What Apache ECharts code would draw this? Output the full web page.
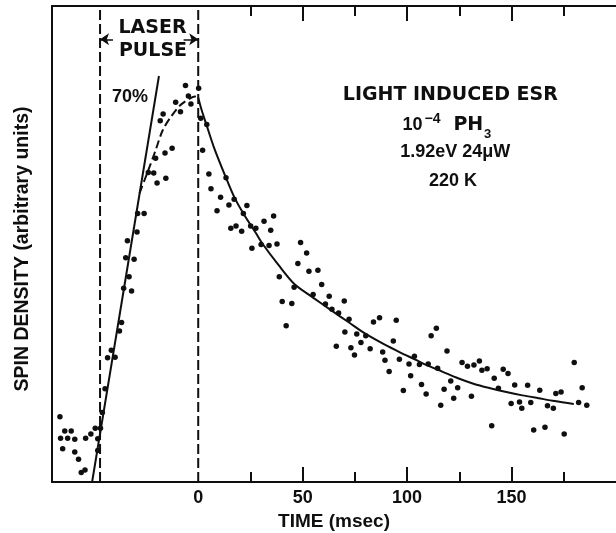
<!DOCTYPE html>
<html>
<head>
<meta charset="utf-8">
<script src="https://cdn.jsdelivr.net/npm/echarts@6/dist/echarts.min.js"></script>
<style>
html,body{margin:0;padding:0;background:#fff;}
#chart{width:616px;height:533px;}
</style>
</head>
<body>
<div id="chart"></div>
<script>
// ---- data (TIME in msec, SPIN DENSITY in arbitrary units 0-100) ----
const prePulsePoints = [
  [-66.2,13.7],[-63.9,10.7],[-60.8,10.7],[-65.9,9.2],[-62.5,9.2],[-59.1,9.0],[-64.9,7.0],
  [-59.1,6.3],[-57.3,4.8],[-56.0,2.0],[-54.2,2.5],[-53.9,9.2],[-51.4,10.1],[-49.3,11.3],
  [-46.8,11.3],[-48.1,9.1],[-48.1,6.6]
];
const risePoints = [
  [-45.9,14.6],[-44.6,19.6],[-43.4,26.1],[-41.6,27.7],[-39.8,26.2],[-37.7,31.7],[-36.7,33.5],
  [-35.7,40.7],[-33.1,43.1],[-31.9,40.1],[-34.7,47.1],[-30.7,46.8],[-33.9,50.7],[-29.3,52.5],
  [-29.0,56.4],[-25.9,56.4],[-23.9,65.0],[-21.3,64.9],[-19.7,62.8],[-15.5,63.8],[-20.4,68.0],
  [-15.9,69.1],[-12.5,70.1],[-18.2,75.9],[-16.8,77.3],[-10.8,79.8],[-8.5,77.8],[-6.1,83.3],
  [-4.7,81.1],[-3.5,79.4]
];
const decayPoints = [
  [0.2,82.7],[1.2,76.4],[4.1,75.1],[2.1,69.7],[5.1,64.7],[6.1,61.6],[10.7,59.8],[13.3,63.9],
  [9.0,57.0],[14.7,58.2],[17.2,59.4],[23.3,58.1],[21.6,56.4],[15.6,53.3],[18.1,53.8],[20.8,52.7],
  [25.1,53.8],[27.6,53.3],[31.5,54.8],[36.1,55.9],[34.7,52.9],[25.7,49.1],[30.1,49.9],[33.9,49.7],
  [37.7,50.0],[38.8,43.1],[40.2,37.9],[44.8,37.5],[42.1,32.8],[45.9,40.9],[47.7,45.9],[49.0,50.3],
  [51.9,48.1],[53.0,44.3],[57.3,44.5],[55.0,39.4],[59.1,41.5],[60.9,37.4],[62.7,39.0],[64.0,36.3],
  [67.2,35.5],[66.1,28.5],[69.9,38.0],[72.2,34.2],[70.2,31.5],[73.1,28.2],[74.8,26.7],[75.9,31.1],
  [77.9,29.3],[80.2,30.7],[82.3,28.0],[83.9,33.6],[86.8,34.5],[88.3,27.3],[89.4,25.6],[91.4,23.2],
  [93.4,29.6],[94.8,34.0],[96.3,25.8],[98.2,19.2],[100.9,24.8],[101.7,22.3],[103.5,26.4],[105.9,24.7],
  [106.9,20.5],[109.1,18.5],[110.1,24.8],[111.5,30.7],[114.0,32.3],[114.6,23.9],[116.1,16.1],[117.7,19.5],
  [119.1,27.5],[120.9,21.2],[122.3,17.6],[124.2,19.8],[126.3,25.1],[128.9,24.3],[130.8,18.0],[132.0,24.6],
  [134.6,25.4],[135.8,23.5],[138.3,23.8],[140.5,11.8],[141.7,21.8],[143.7,19.7],[146.0,23.7],[148.3,22.8],
  [149.8,16.5],[151.5,20.4],[153.8,16.8],[154.9,15.5],[157.7,20.3],[159.2,16.7],[160.6,10.9],[163.5,19.3],
  [166.0,11.5],[167.2,16.0],[170.0,15.5],[171.2,18.6],[173.7,18.9],[175.2,10.1],[180.0,25.1],[182.1,16.7],
  [183.8,19.8],[186.0,16.1]
];
// fitted curves
const riseLine = [[-50.8,0],[-18.8,85.3]];
const riseDashedCurve = [
  [-28.1,60.7],[-23.9,65.5],[-20.4,69.7],[-17.0,73.9],[-13.1,76.7],[-8.5,79.2],[-3.9,80.6],[-1.6,81.0],[0,80.8]
];
const decayCurve = [
  [0,80.8],[1.6,78.2],[3.9,75.1],[7.6,70.2],[13.3,63.9],[17.2,59.9],[21.6,56.4],[27.6,52.3],
  [30.7,50.1],[38.4,45.6],[46.0,41.6],[54.8,38.8],[63.9,36.0],[72.2,33.5],[80.2,31.1],[89.1,28.9],
  [96.8,27.2],[104.5,25.6],[109.1,24.6],[116.8,23.2],[124.4,21.8],[132.1,20.6],[139.8,19.7],
  [147.5,18.9],[155.2,18.2],[162.9,17.6],[170.6,17.0],[179.8,16.4]
];
const pulseStart = -47;
const pulseEnd = 0;
const arrowLevel = 93;
const xMin = -70, xMax = 200, yMin = 0, yMax = 100;
const majorTicks = [50,100,150];
const minorTicks = [25,75,125,175];
const tickLabels = [0,50,100,150];

// ---- chart ----
const INK = '#0f0f0f';
const chart = echarts.init(document.getElementById('chart'), null, {renderer:'canvas'});

function xAx(pos, ticks, len, showLine, showLabel){
  return {
    type:'value', position:pos, min:xMin, max:xMax, gridIndex:0,
    axisLine:{show:showLine, onZero:false, lineStyle:{color:INK, width:2}},
    axisTick:{show:true, inside:true, length:len, customValues:ticks, lineStyle:{color:INK, width:2}},
    axisLabel:{show:showLabel, customValues:tickLabels, margin:7, color:INK,
      fontSize:18, fontWeight:'bold', fontFamily:'Liberation Sans'},
    splitLine:{show:false}
  };
}
const lineBase = {type:'line', showSymbol:false, symbol:'none', silent:true, animation:false};
const dotStyle = {color:INK, opacity:1};

const option = {
  backgroundColor:'#ffffff',
  animation:false,
  grid:{left:52, right:-21, top:6, bottom:51, containLabel:false},
  xAxis:[
    xAx('bottom', majorTicks, 15, true, true),
    xAx('bottom', minorTicks, 10, false, false),
    xAx('top', majorTicks, 15, true, false),
    xAx('top', minorTicks, 10, false, false)
  ],
  yAxis:{type:'value', min:yMin, max:yMax,
    axisLine:{show:true, onZero:false, lineStyle:{color:INK, width:2}},
    axisTick:{show:false}, axisLabel:{show:false}, splitLine:{show:false}},
  series:[
    Object.assign({}, lineBase, {data:[[pulseStart,yMin],[pulseStart,yMax]],
      lineStyle:{color:INK, width:2, type:[10,4]}}),
    Object.assign({}, lineBase, {data:[[pulseEnd,yMin],[pulseEnd,yMax]],
      lineStyle:{color:INK, width:2, type:[10,4]},
      markLine:{silent:true, symbol:['none','arrow'], symbolSize:9, label:{show:false},
        lineStyle:{color:INK, width:1.5, type:'solid'},
        emphasis:{disabled:true},
        data:[
          [{coord:[-40.8,arrowLevel]},{coord:[pulseStart,arrowLevel]}],
          [{coord:[-7,arrowLevel]},{coord:[pulseEnd,arrowLevel]}]
        ]}}),
    Object.assign({}, lineBase, {data:riseLine, lineStyle:{color:INK, width:2}}),
    Object.assign({}, lineBase, {data:riseDashedCurve, smooth:0.3, lineStyle:{color:INK, width:2, type:[8,4]}}),
    Object.assign({}, lineBase, {data:decayCurve, smooth:0.3, lineStyle:{color:INK, width:2}}),
    {type:'scatter', data:prePulsePoints, symbolSize:5.5, itemStyle:dotStyle, silent:true},
    {type:'scatter', data:risePoints, symbolSize:5.5, itemStyle:dotStyle, silent:true},
    {type:'scatter', data:decayPoints, symbolSize:5.5, itemStyle:dotStyle, silent:true}
  ],
  graphic:[
    {type:'text', x:23, y:249, rotation:Math.PI/2, style:{text:'SPIN DENSITY (arbitrary units)',
      align:'center', verticalAlign:'middle', fill:INK, font:'bold 19.5px "Liberation Sans"'}},
    {type:'text', style:{x:334, y:521.5, text:'TIME (msec)', align:'center', verticalAlign:'middle',
      fill:INK, font:'bold 19px "Liberation Sans"'}},
    {type:'text', style:{x:152.5, y:28.5, text:'LASER', align:'center', verticalAlign:'middle',
      fill:INK, font:'bold 19px "DejaVu Sans"'}},
    {type:'text', style:{x:153, y:51, text:'PULSE', align:'center', verticalAlign:'middle',
      fill:INK, font:'bold 19px "DejaVu Sans"'}},
    {type:'text', style:{x:130, y:97.5, text:'70%', align:'center', verticalAlign:'middle',
      fill:INK, font:'bold 18px "Liberation Sans"'}},
    {type:'text', style:{x:450.3, y:95.5, text:'LIGHT INDUCED ESR', align:'center', verticalAlign:'middle',
      fill:INK, font:'bold 19px "DejaVu Sans"'}},
    {type:'text', style:{x:412.5, y:125.5, text:'10', align:'center', verticalAlign:'middle',
      fill:INK, font:'bold 18px "Liberation Sans"'}},
    {type:'text', style:{x:432.5, y:119, text:'\u22124', align:'center', verticalAlign:'middle',
      fill:INK, font:'bold 14px "Liberation Sans"'}},
    {type:'text', style:{x:468.3, y:125.5, text:'PH', align:'center', verticalAlign:'middle',
      fill:INK, font:'bold 19px "DejaVu Sans"'}},
    {type:'text', style:{x:487.5, y:134, text:'3', align:'center', verticalAlign:'middle',
      fill:INK, font:'bold 13px "Liberation Sans"'}},
    {type:'text', style:{x:455.3, y:152, text:'1.92eV 24\u03bcW', align:'center', verticalAlign:'middle',
      fill:INK, font:'bold 18px "Liberation Sans"'}},
    {type:'text', style:{x:453, y:181.5, text:'220 K', align:'center', verticalAlign:'middle',
      fill:INK, font:'bold 18px "Liberation Sans"'}}
  ]
};
chart.setOption(option);
</script>
</body>
</html>
